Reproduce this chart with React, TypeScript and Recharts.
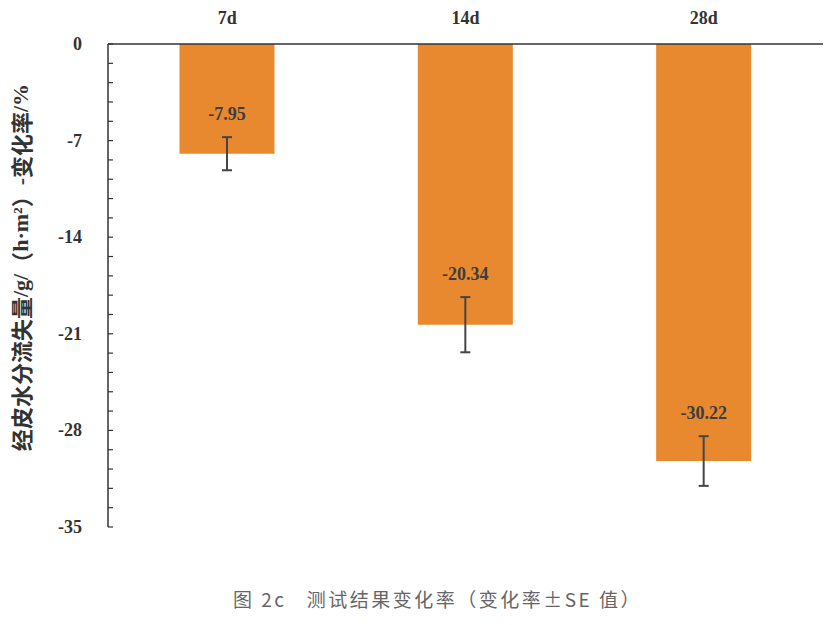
import { BarChart, Bar, XAxis, YAxis, ErrorBar, LabelList } from 'recharts'

// 测试结果变化率（变化率±SE）
const days = ['7d', '14d', '28d']
const changeRates = [-7.95, -20.34, -30.22]
const seValues = [1.2, 2.0, 1.8]

const majorTicks = [0, -7, -14, -21, -28, -35]
const allTicks = [
	0, -1.4, -2.8, -4.2, -5.6, -7, -8.4, -9.8, -11.2, -12.6, -14, -15.4, -16.8,
	-18.2, -19.6, -21, -22.4, -23.8, -25.2, -26.6, -28, -29.4, -30.8, -32.2,
	-33.6, -35,
]

const data = days.map((d, i) => ({ day: d, rate: changeRates[i], se: seValues[i] }))

const serif = '"Liberation Serif", "Times New Roman", serif'
const cjk = '"Noto Sans CJK SC", sans-serif'

function XTick({ x, y, payload }: any) {
	return (
		<text
			x={x}
			y={y - 12}
			textAnchor="middle"
			fontFamily={serif}
			fontWeight={700}
			fontSize={18}
			fill="#333"
		>
			{payload.value}
		</text>
	)
}

function YTick({ x, y, payload }: any) {
	const major = majorTicks.includes(payload.value)
	return (
		<g>
			<line x1={x} x2={x + 5} y1={y} y2={y} stroke="#333" strokeWidth={1.2} />
			{major && (
				<text
					x={x - 26}
					y={y}
					textAnchor="end"
					dominantBaseline="central"
					fontFamily={serif}
					fontWeight={700}
					fontSize={18}
					fill="#333"
				>
					{payload.value}
				</text>
			)}
		</g>
	)
}

function ValueLabel(props: any) {
	const { x, y, width, height, value, index } = props
	const bottom = Math.max(y, y + height)
	const pxPerUnit = Math.abs(height / value)
	const errTop = bottom - seValues[index] * pxPerUnit
	return (
		<text
			x={x + width / 2}
			y={errTop - 23}
			textAnchor="middle"
			dominantBaseline="central"
			fontFamily={serif}
			fontWeight={700}
			fontSize={18}
			fill="#3d3d3d"
		>
			{value}
		</text>
	)
}

function YLabel(props: any) {
	const vb = props.viewBox || {}
	const cx = 20
	const cy = vb.y + vb.height / 2 - 18
	return (
		<text
			x={cx}
			y={cy}
			transform={`rotate(-90, ${cx}, ${cy})`}
			textAnchor="middle"
			dominantBaseline="central"
			fontFamily={cjk}
			fontWeight={700}
			fontSize={22}
			fill="#333"
		>
			经皮水分流失量
			<tspan fontFamily={serif} fontWeight={700}>/g/</tspan>（
			<tspan fontFamily={serif} fontWeight={700}>h·m²</tspan>）
			<tspan fontFamily={serif} fontWeight={700}>-</tspan>变化率
			<tspan fontFamily={serif} fontWeight={700}>/%</tspan>
		</text>
	)
}

export default function App() {
	return (
		<div
			style={{
				position: 'absolute',
				left: 0,
				top: 0,
				width: 835,
				height: 625,
				background: '#fff',
			}}
		>
			<BarChart
				width={835}
				height={625}
				data={data}
				margin={{ top: 14, right: 12, bottom: 98, left: 48 }}
				barCategoryGap="30%"
			>
				<XAxis
					dataKey="day"
					orientation="top"
					height={30}
					axisLine={{ stroke: '#333', strokeWidth: 1.5 }}
					tickLine={false}
					tick={<XTick />}
				/>
				<YAxis
					domain={[-35, 0]}
					ticks={allTicks}
					interval={0}
					width={60}
					tickSize={0}
					tickMargin={0}
					tickLine={false}
					axisLine={{ stroke: '#333', strokeWidth: 1.5 }}
					tick={<YTick />}
					label={(p: any) => <YLabel {...p} />}
				/>
				<Bar dataKey="rate" fill="#E8882F" isAnimationActive={false}>
					<ErrorBar dataKey="se" width={5} strokeWidth={2} stroke="#454545" direction="y" />
					<LabelList dataKey="rate" content={<ValueLabel />} />
				</Bar>
			</BarChart>
			<div
				style={{
					position: 'absolute',
					top: 585,
					left: 40,
					width: 795,
					textAlign: 'center',
					fontFamily: cjk,
					fontSize: 19,
					letterSpacing: 2.5,
					color: '#666',
					whiteSpace: 'pre',
				}}
			>
				图 2c   测试结果变化率（变化率±SE 值）
			</div>
		</div>
	)
}
